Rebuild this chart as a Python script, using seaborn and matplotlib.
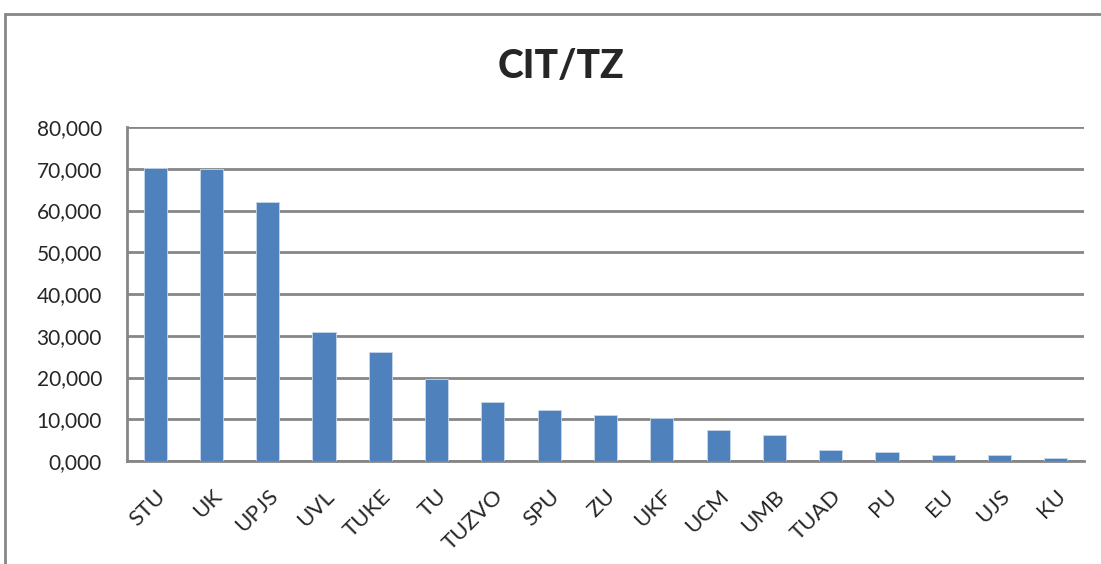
import matplotlib
matplotlib.use("Agg")
import matplotlib.pyplot as plt
import matplotlib.patches as mpatches
from matplotlib.ticker import FuncFormatter, FixedLocator
import numpy as np
import pandas as pd
import seaborn as sns

schools = ["STU", "UK", "UPJS", "UVL", "TUKE", "TU", "TUZVO", "SPU", "ZU",
           "UKF", "UCM", "UMB", "TUAD", "PU", "EU", "UJS", "KU"]
values = [70200, 70000, 62100, 31000, 26200, 19600, 14150, 12100, 10900,
          10250, 7500, 6300, 2650, 2250, 1350, 1350, 800]

df = pd.DataFrame({"school": schools, "value": values})

sns.set_style("white")
plt.rcParams["font.family"] = ["Lato", "DejaVu Sans"]

grid_col = "#868686"
fig = plt.figure(figsize=(11.01, 5.64), dpi=100)
W, H = 1101, 564
ax = fig.add_axes([127 / W, 1 - 461 / H, (1084 - 127) / W, (461 - 127) / H])

sns.barplot(data=df, x="school", y="value", color="#4F81BD", width=0.41,
            saturation=1, ax=ax, zorder=3, edgecolor="#c9d7ea", linewidth=0.6)

ax.set_ylim(0, 80000)
ax.set_xlim(-0.5, len(schools) - 0.5)
ax.yaxis.set_major_locator(FixedLocator(np.arange(0, 80001, 10000)))
ax.yaxis.set_major_formatter(FuncFormatter(lambda v, p: f"{int(v) // 1000},000" if v else "0,000"))
ax.grid(axis="y", color=grid_col, linewidth=2, zorder=0)
ax.set_axisbelow(True)

for side in ["top", "right"]:
    ax.spines[side].set_visible(False)
for side in ["left", "bottom"]:
    ax.spines[side].set_color(grid_col)
    ax.spines[side].set_linewidth(2)

# ticks between categories on x
ax.set_xticks(np.arange(len(schools)))
ax.set_xticklabels(schools, rotation=45, ha="right", rotation_mode="anchor", fontsize=16)
ax.set_xticks(np.arange(-0.5, len(schools), 1), minor=True)
ax.tick_params(axis="x", which="major", length=0, pad=18)
ax.tick_params(axis="x", which="minor", length=6, width=1.5, color=grid_col, direction="out")
ax.tick_params(axis="y", length=7, width=1.5, color=grid_col, direction="out", labelsize=15, pad=11)
ax.set_xlabel("")
ax.set_ylabel("")

fig.text(561 / W, 1 - 66 / H, "CIT/TZ", ha="center", va="center", fontsize=28, fontweight="black")

# chart border (cut off at right and bottom like the reference)
fig.patches.append(mpatches.Rectangle((5 / W, -0.05), 1.2, 1 - 14 / H + 0.05,
                                      transform=fig.transFigure, fill=False,
                                      edgecolor=grid_col, linewidth=2))

fig.savefig("out.png", dpi=100)
